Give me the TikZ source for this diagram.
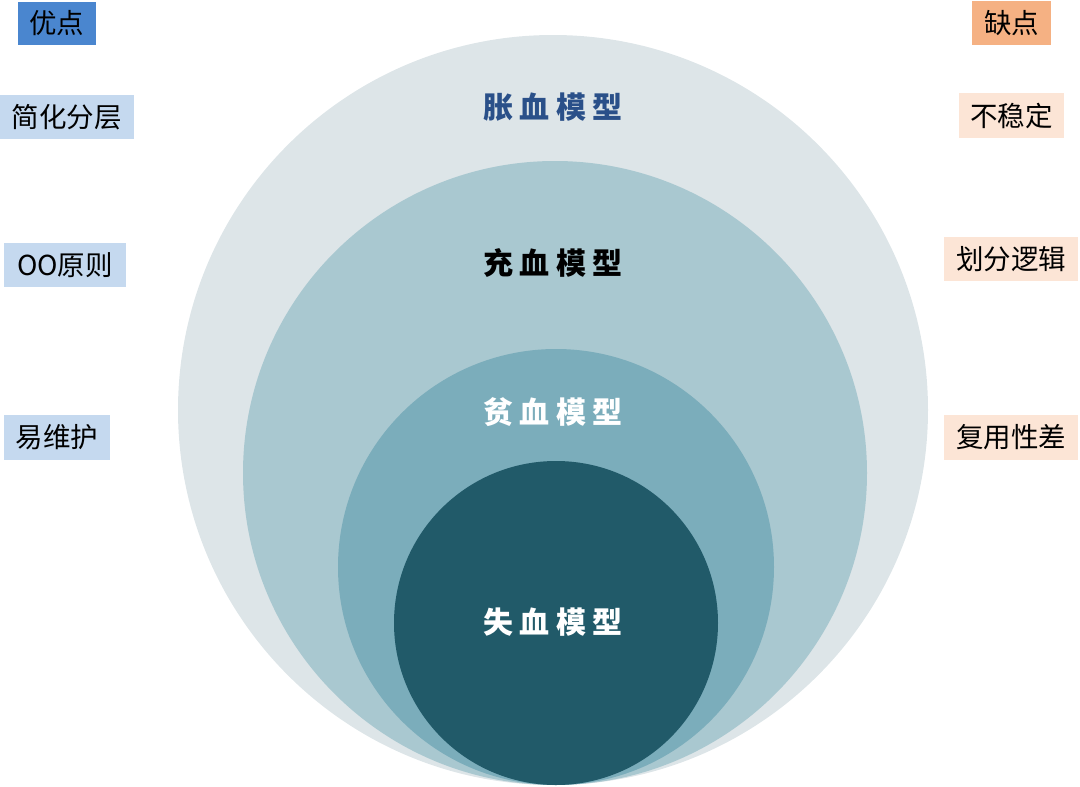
\documentclass[tikz,border=0pt]{standalone}
\usepackage{fontspec}
\setmainfont{Noto Sans CJK SC}
\definecolor{cOuter}{HTML}{DDE5E8}
\definecolor{cSecond}{HTML}{A9C8D0}
\definecolor{cThird}{HTML}{7BADBB}
\definecolor{cInner}{HTML}{215A69}
\definecolor{cTitle}{HTML}{2A5089}
\definecolor{cProHead}{HTML}{4A86CF}
\definecolor{cPro}{HTML}{C5D9EF}
\definecolor{cConHead}{HTML}{F5B183}
\definecolor{cCon}{HTML}{FCE5D6}
\newcommand{\gapx}{\hspace{6.3pt}}
\tikzset{
  ring/.style={circle, inner sep=0pt, draw=none},
  tag/.style={inner sep=0pt, font=\fontsize{27.5}{27.5}\selectfont, text=black},
  model/.style={inner sep=0pt, font=\fontsize{30}{30}\selectfont\bfseries}
}
\begin{document}
\begin{tikzpicture}[x=1pt,y=-1pt]
\useasboundingbox (0,0) rectangle (1080,787);
\node[ring, fill=cOuter, minimum size=750pt] (c1) at (553,410) {};
\node[ring, fill=cSecond, minimum size=624pt] (c2) at (555,473) {};
\node[ring, fill=cThird, minimum size=436pt] (c3) at (556,567) {};
\node[ring, fill=cInner, minimum size=324pt] (c4) at (556,623) {};
\node[model, text=cTitle] (t1) at (553,107) {胀\gapx 血\gapx 模\gapx 型};
\node[model, text=black] (t2) at (553,263) {充\gapx 血\gapx 模\gapx 型};
\node[model, text=white] (t3) at (553,412) {贫\gapx 血\gapx 模\gapx 型};
\node[model, text=white] (t4) at (553,622) {失\gapx 血\gapx 模\gapx 型};
\node[tag, fill=cProHead, minimum width=78pt, minimum height=43pt] (p0) at (57,23) {优点};
\node[tag, fill=cPro, minimum width=134pt, minimum height=44pt] (p1) at (67,117) {简化分层};
\node[tag, fill=cPro, minimum width=122pt, minimum height=44pt] (p2) at (65,265) {OO原则};
\node[tag, fill=cPro, minimum width=106pt, minimum height=45pt] (p3) at (57,437.5) {易维护};
\node[tag, fill=cConHead, minimum width=79pt, minimum height=44pt] (n0) at (1011.5,23) {缺点};
\node[tag, fill=cCon, minimum width=105pt, minimum height=45pt] (n1) at (1011.5,115.5) {不稳定};
\node[tag, fill=cCon, minimum width=134pt, minimum height=44pt] (n2) at (1011,259) {划分逻辑};
\node[tag, fill=cCon, minimum width=134pt, minimum height=45pt] (n3) at (1011,437.5) {复用性差};
\end{tikzpicture}
\end{document}
